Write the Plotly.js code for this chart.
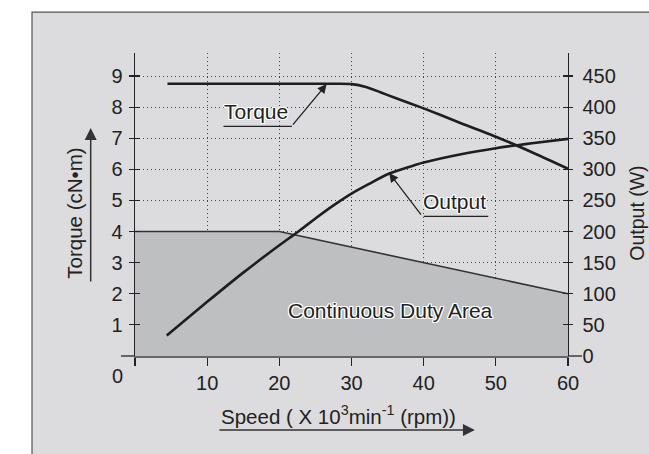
<!DOCTYPE html>
<html><head><meta charset="utf-8">
<script src="https://cdn.plot.ly/plotly-3.0.1.min.js"></script>
<style>html,body{margin:0;padding:0;background:#fff;}#c{width:649px;height:454px;}</style>
</head><body><div id="c"></div>
<script>
// ---- data ----
const xTicks = [0, 10, 20, 30, 40, 50, 60];
const xTickText = ['', '10', '20', '30', '40', '50', '60'];
const torqueTicks = [1, 2, 3, 4, 5, 6, 7, 8, 9];
const outputTicks = [0, 50, 100, 150, 200, 250, 300, 350, 400, 450];

const torqueSpeed = [4.5, 10, 20, 28, 30, 32, 34, 36, 40, 45, 50, 55, 60];
const torqueValue = [8.75, 8.75, 8.75, 8.75, 8.74, 8.65, 8.48, 8.3, 7.96, 7.5, 7.05, 6.55, 6.02];

const outputSpeed = [4.4, 10, 15, 20, 22.5, 25, 27.5, 30, 32.5, 35, 37.5, 40, 45, 50, 55, 60];
const outputValue = [33, 87, 134, 178, 199, 221, 242, 261, 277, 292, 302, 311, 324, 334, 342, 349];

const dutySpeed = [0, 20, 60];
const dutyTorque = [4, 4, 2];

// ---- layout helpers ----
const W = 649, H = 454;
const M = {l: 135, r: 81, t: 53, b: 97.5};
const pw = W - M.l - M.r, ph = H - M.t - M.b;
const px2paperX = p => (p - M.l) / pw;
const px2paperY = p => (H - M.b - p) / ph;

const ink = '#1e1e1e';
const FONT = 'Arial, "Liberation Sans", sans-serif';
const halo = '1px 1px 0 #fff, -1px -1px 0 #fff, 1px -1px 0 #fff, -1px 1px 0 #fff, 0 1px 0 #fff, 0 -1px 0 #fff, 1px 0 0 #fff, -1px 0 0 #fff';
const GRIDDASH = '1px,3px';

const traces = [
  {x: dutySpeed, y: dutyTorque, type: 'scatter', mode: 'lines', fill: 'tozeroy',
   fillcolor: '#bebfc1', line: {color: '#333', width: 1.6}, hoverinfo: 'skip', showlegend: false},
  {x: torqueSpeed, y: torqueValue, type: 'scatter', mode: 'lines',
   line: {color: ink, width: 2.6, shape: 'spline', smoothing: 0.6}, showlegend: false},
  {x: outputSpeed, y: outputValue, yaxis: 'y2', type: 'scatter', mode: 'lines',
   line: {color: ink, width: 2.6, shape: 'spline', smoothing: 0.6}, showlegend: false},
  {x: [], y: [], yaxis: 'y3', type: 'scatter', showlegend: false},
  {x: [], y: [], yaxis: 'y4', type: 'scatter', showlegend: false},
  {x: [], y: [], yaxis: 'y5', type: 'scatter', showlegend: false},
  {x: [], y: [], yaxis: 'y6', type: 'scatter', showlegend: false}
];

const tRange = [0, 9.74];
const oRange = [0, 487];
const tickFont = {family: FONT, size: 20, color: '#222'};
const labelFont = {family: FONT, size: 21, color: '#222', shadow: halo};
const titleFont = {family: FONT, size: 20.5, color: '#222'};

const layout = {
  width: W, height: H,
  margin: M,
  paper_bgcolor: '#ffffff',
  plot_bgcolor: 'rgba(0,0,0,0)',
  font: {family: FONT, color: '#222'},
  showlegend: false,
  xaxis: {
    range: [0, 60], tickvals: xTicks, ticktext: xTickText, tickfont: tickFont,
    ticks: 'outside', ticklen: 8, tickwidth: 1.2, tickcolor: '#222',
    showline: true, linecolor: '#666', linewidth: 1.6,
    showgrid: true, gridcolor: '#444', griddash: GRIDDASH, gridwidth: 1,
    zeroline: false, fixedrange: true
  },
  yaxis: {
    range: tRange, tickvals: torqueTicks, tickfont: tickFont,
    ticks: 'outside', ticklen: 5, tickwidth: 1.2, tickcolor: '#222',
    showline: true, linecolor: '#222', linewidth: 1.4,
    showgrid: true, gridcolor: '#444', griddash: GRIDDASH, gridwidth: 1,
    zeroline: false, fixedrange: true, ticklabelstandoff: 2
  },
  yaxis2: {
    range: oRange, tickvals: outputTicks, tickfont: tickFont, overlaying: 'y', side: 'right', anchor: 'x',
    ticks: 'outside', ticklen: 4, tickwidth: 1.2, tickcolor: '#222',
    showline: true, linecolor: '#222', linewidth: 1.4,
    showgrid: false, zeroline: false, fixedrange: true, ticklabelstandoff: 5
  },
  yaxis3: {
    range: tRange, tickvals: torqueTicks, overlaying: 'y', side: 'left', anchor: 'x',
    ticks: 'inside', ticklen: 5, tickwidth: 1.2, tickcolor: '#222',
    showticklabels: false, showgrid: false, showline: false, zeroline: false, fixedrange: true
  },
  yaxis4: {
    range: tRange, tickvals: [0], overlaying: 'y', side: 'left', anchor: 'x',
    ticks: 'outside', ticklen: 13, tickwidth: 1.6, tickcolor: '#666',
    showticklabels: false, showgrid: false, showline: false, zeroline: false, fixedrange: true
  },
  yaxis5: {
    range: oRange, tickvals: outputTicks, overlaying: 'y', side: 'right', anchor: 'x',
    ticks: 'inside', ticklen: 5, tickwidth: 1.2, tickcolor: '#222',
    showticklabels: false, showgrid: false, showline: false, zeroline: false, fixedrange: true
  },
  yaxis6: {
    range: oRange, tickvals: [0], overlaying: 'y', side: 'right', anchor: 'x',
    ticks: 'outside', ticklen: 13, tickwidth: 1.6, tickcolor: '#666',
    showticklabels: false, showgrid: false, showline: false, zeroline: false, fixedrange: true
  },
  shapes: [
    {type: 'rect', xref: 'paper', yref: 'paper', layer: 'below',
     x0: px2paperX(32), x1: px2paperX(W + 10), y0: px2paperY(H + 10), y1: px2paperY(12),
     fillcolor: '#dcdcde', line: {color: '#555', width: 1.2}}
  ],
  annotations: [
    // corner "0" label
    {x: 0, y: 0, xref: 'x', yref: 'y', text: '0', showarrow: false, xshift: -18, yshift: -20,
     font: tickFont},
    // axis titles
    {x: px2paperX(338), y: px2paperY(416), xref: 'paper', yref: 'paper', xanchor: 'center', yanchor: 'middle',
     text: 'Speed ( X 10<sup>3</sup>min<sup>-1</sup> (rpm))', showarrow: false, font: titleFont},
    {x: px2paperX(75), y: px2paperY(214), xref: 'paper', yref: 'paper', xanchor: 'center', yanchor: 'middle',
     text: 'Torque (cN•m)', textangle: -90, showarrow: false, font: titleFont},
    {x: px2paperX(637), y: px2paperY(214), xref: 'paper', yref: 'paper', xanchor: 'center', yanchor: 'middle',
     text: 'Output (W)', textangle: -90, showarrow: false, font: {family: FONT, size: 19.5, color: '#222'}},
    // Torque label
    {x: 16.8, y: 7.86, xref: 'x', yref: 'y', text: 'Torque', showarrow: false, font: labelFont},
    {x: 21.75, y: 7.38, xref: 'x', yref: 'y', text: '', showarrow: true, arrowhead: 0,
     ax: -70, ay: 0, arrowwidth: 1.3, arrowcolor: '#222', standoff: 0, startstandoff: 0},
    {x: 26.56, y: 8.74, xref: 'x', yref: 'y', text: '', showarrow: true, arrowhead: 2,
     arrowsize: 1.4, arrowwidth: 1.3, arrowcolor: '#222', ax: -35, ay: 42, standoff: 0, startstandoff: 0},
    // Output label
    {x: 44.3, y: 4.97, xref: 'x', yref: 'y', text: 'Output', showarrow: false, font: labelFont},
    {x: 48.95, y: 4.49, xref: 'x', yref: 'y', text: '', showarrow: true, arrowhead: 0,
     ax: -66, ay: 0, arrowwidth: 1.3, arrowcolor: '#222', standoff: 0, startstandoff: 0},
    {x: 35.22, y: 5.88, xref: 'x', yref: 'y', text: '', showarrow: true, arrowhead: 2,
     arrowsize: 1.4, arrowwidth: 1.3, arrowcolor: '#222', ax: 33, ay: 43, standoff: 0, startstandoff: 0},
    // Continuous duty area label
    {x: 35.4, y: 1.47, xref: 'x', yref: 'y', text: 'Continuous Duty Area', showarrow: false, font: labelFont},
    // axis title arrows
    {x: 47.1, y: px2paperY(430.7), xref: 'x', yref: 'paper', text: '', showarrow: true, arrowhead: 2,
     arrowsize: 1.6, arrowwidth: 1.5, arrowcolor: '#333', ax: -257, ay: 0, standoff: 0, startstandoff: 0},
    {x: px2paperX(90.7), y: px2paperY(128), xref: 'paper', yref: 'paper', text: '', showarrow: true, arrowhead: 2,
     arrowsize: 1.6, arrowwidth: 1.5, arrowcolor: '#333', ax: 0, ay: 155, standoff: 0, startstandoff: 0}
  ]
};

Plotly.newPlot('c', traces, layout, {displayModeBar: false, staticPlot: true});
</script>
</body></html>
